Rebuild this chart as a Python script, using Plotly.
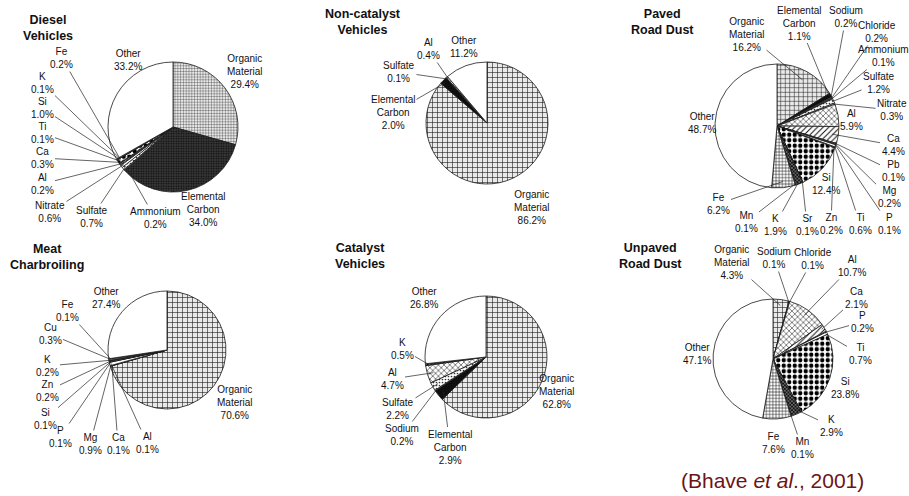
import math
import plotly.graph_objects as go

W, H = 909, 496

# ---------------- data (percent of PM2.5 mass) ----------------
diesel_labels = ["Organic Material", "Elemental Carbon", "Ammonium", "Sulfate", "Nitrate",
                 "Al", "Ca", "Ti", "Si", "K", "Fe", "Other"]
diesel_values = [29.4, 34.0, 0.2, 0.7, 0.6, 0.2, 0.3, 0.1, 1.0, 0.1, 0.2, 33.2]

noncat_labels = ["Organic Material", "Elemental Carbon", "Sulfate", "Al", "Other"]
noncat_values = [86.2, 2.0, 0.1, 0.4, 11.2]

paved_labels = ["Organic Material", "Elemental Carbon", "Sodium", "Chloride", "Ammonium",
                "Sulfate", "Nitrate", "Al", "Ca", "Pb", "Mg", "P", "Ti", "Zn", "Si",
                "Sr", "K", "Mn", "Fe", "Other"]
paved_values = [16.2, 1.1, 0.2, 0.2, 0.1, 1.2, 0.3, 5.9, 4.4, 0.1, 0.2, 0.1, 0.6, 0.2,
                12.4, 0.1, 1.9, 0.1, 6.2, 48.7]

meat_labels = ["Organic Material", "Al", "Ca", "Mg", "P", "Si", "Zn", "K", "Cu", "Fe", "Other"]
meat_values = [70.6, 0.1, 0.1, 0.9, 0.1, 0.1, 0.2, 0.2, 0.3, 0.1, 27.4]

cat_labels = ["Organic Material", "Elemental Carbon", "Sodium", "Sulfate", "Al", "K", "Other"]
cat_values = [62.8, 2.9, 0.2, 2.2, 4.7, 0.5, 26.8]

unpaved_labels = ["Organic Material", "Sodium", "Chloride", "Al", "Ca", "P", "Ti", "Si",
                  "K", "Mn", "Fe", "Other"]
unpaved_values = [4.3, 0.1, 0.1, 10.7, 2.1, 0.2, 0.7, 23.8, 2.9, 0.1, 7.6, 47.1]

source_titles = ["Diesel<br>Vehicles", "Non-catalyst<br>Vehicles", "Paved<br>Road Dust",
                 "Meat<br>Charbroiling", "Catalyst<br>Vehicles", "Unpaved<br>Road Dust"]
citation = "(Bhave <i>et al</i>., 2001)"

# ---------------- layout of each panel (pixels) ----------------
# center, radius, title position, and per-slice label: (x, y, leader?, leader depth)
panels = [
    dict(center=(173, 127), r=65, title=(48, 28), grid=2.8, ec="#3a3a3a",
         labels={"Organic Material": (245, 71, False, 0), "Elemental Carbon": (203, 210, False, 0),
                 "Ammonium": (155, 218, True, .95), "Sulfate": (92, 217, True, .95),
                 "Nitrate": (50, 212, True, .95), "Al": (42, 184, True, .95),
                 "Ca": (42, 158, True, .95), "Ti": (42, 133, True, .95),
                 "Si": (42, 108, True, .95), "K": (42, 83, True, .95),
                 "Fe": (62, 58, True, .95), "Other": (128, 60, False, 0)}),
    dict(center=(487, 123), r=61, title=(363, 22), grid=5, ec="#111111",
         labels={"Organic Material": (532, 207, False, 0), "Elemental Carbon": (393, 113, True, .95),
                 "Sulfate": (399, 72, True, .97), "Al": (428, 49, True, .97),
                 "Other": (464, 47, False, 0)}),
    dict(center=(777, 126), r=62, title=(662, 22), grid=4.5, ec="#111111",
         labels={"Organic Material": (747, 34, True, .85), "Elemental Carbon": (799, 23, True, .97),
                 "Sodium": (846, 17, True, .98), "Chloride": (877, 32, True, .98),
                 "Ammonium": (883, 56, True, .98), "Sulfate": (879, 83, True, .97),
                 "Nitrate": (892, 110, True, .98), "Al": (851, 120, False, 0),
                 "Ca": (893, 145, True, .9), "Pb": (893, 171, True, .98),
                 "Mg": (889, 197, True, .98), "P": (889, 224, True, .98),
                 "Ti": (860, 224, True, .98), "Zn": (831, 224, True, .98),
                 "Si": (826, 184, False, 0), "Sr": (807, 225, True, .98),
                 "K": (775, 225, True, .97), "Mn": (746, 222, True, .98),
                 "Fe": (718, 204, True, .9), "Other": (702, 123, False, 0)}),
    dict(center=(167, 350), r=59, title=(47, 257), grid=5, ec="#111111",
         labels={"Organic Material": (235, 402, False, 0), "Al": (147, 443, True, .97),
                 "Ca": (118, 444, True, .97), "Mg": (90, 444, True, .97),
                 "P": (60, 437, True, .97), "Si": (45, 419, True, .97),
                 "Zn": (47, 391, True, .97), "K": (47, 366, True, .97),
                 "Cu": (50, 334, True, .97), "Fe": (67, 311, True, .97),
                 "Other": (106, 298, False, 0)}),
    dict(center=(486, 357), r=61, title=(360, 256), grid=5, ec="#111111",
         labels={"Organic Material": (557, 391, False, 0), "Elemental Carbon": (450, 447, True, .9),
                 "Sodium": (402, 435, True, .97), "Sulfate": (398, 409, True, .9),
                 "Al": (392, 379, True, .9), "K": (402, 349, True, .95),
                 "Other": (424, 298, False, 0)}),
    dict(center=(773, 359), r=60, title=(650, 256), grid=5, ec="#111111",
         labels={"Organic Material": (732, 262, True, .9), "Sodium": (774, 258, True, .98),
                 "Chloride": (813, 259, True, .98), "Al": (852, 266, True, .9),
                 "Ca": (856, 298, True, .95), "P": (862, 322, True, .97),
                 "Ti": (860, 354, True, .97), "Si": (845, 388, False, 0),
                 "K": (831, 426, True, .9), "Mn": (802, 448, True, .98),
                 "Fe": (773, 443, False, 0), "Other": (697, 354, False, 0)}),
]

FONT = "Arial, 'Liberation Sans', Helvetica, sans-serif"


def slice_style(name, panel):
    """Fill colour and hatch pattern for one component."""
    if name == "Organic Material":
        return "#ffffff", "+", "#1a1a1a", "#e9e9e9", panel["grid"], 0.22
    if name == "Elemental Carbon":
        return panel["ec"], ".", "#0a0a0a", panel["ec"], 2.5, 0.4
    if name == "Al":
        return "#ffffff", "x", "#111111", "#ffffff", 4, 0.25
    if name == "Ca":
        return "#ffffff", "/", "#111111", "#ffffff", 4, 0.25
    if name == "Si":
        return "#ffffff", ".", "#000000", "#ffffff", 5.5, 0.5
    if name == "Fe":
        return "#ffffff", "+", "#111111", "#ffffff", 3.2, 0.3
    if name == "K":
        return "#444444", "x", "#000000", "#666666", 2.5, 0.5
    if name == "Sulfate":
        return "#ffffff", ".", "#333333", "#ffffff", 3, 0.25
    return "#ffffff", "", "#000000", "#ffffff", 4, 0.3


series = [(diesel_labels, diesel_values), (noncat_labels, noncat_values),
          (paved_labels, paved_values), (meat_labels, meat_values),
          (cat_labels, cat_values), (unpaved_labels, unpaved_values)]

fig = go.Figure()
annotations = []

for (labels, values), panel, title in zip(series, panels, source_titles):
    cx, cy = panel["center"]
    r = panel["r"]
    styles = [slice_style(n, panel) for n in labels]
    fig.add_trace(go.Pie(
        labels=labels, values=values, sort=False, direction="clockwise", rotation=0,
        textinfo="none", hoverinfo="label+percent", showlegend=False,
        domain=dict(x=[(cx - r) / W, (cx + r) / W], y=[1 - (cy + r) / H, 1 - (cy - r) / H]),
        marker=dict(
            colors=[s[0] for s in styles],
            line=dict(color="#1a1a1a", width=0.8),
            pattern=dict(shape=[s[1] for s in styles], fgcolor=[s[2] for s in styles],
                         bgcolor=[s[3] for s in styles], size=[s[4] for s in styles],
                         solidity=[s[5] for s in styles], fillmode="replace"),
        ),
    ))

    tx, ty = panel["title"]
    annotations.append(dict(x=tx / W, y=1 - ty / H, xref="paper", yref="paper",
                            text="<b>" + title.replace("<br>", "</b><br><b>") + "</b>",
                            showarrow=False, font=dict(family=FONT, size=12.5, color="#111"),
                            xanchor="center", yanchor="middle"))

    total = sum(values)
    cum = 0.0
    for name, v in zip(labels, values):
        theta = 2 * math.pi * (cum + v / 2) / total
        cum += v
        lx, ly, leader, depth = panel["labels"][name]
        text = name.replace(" ", "<br>") + "<br>" + f"{v:.1f}%"
        common = dict(xref="paper", yref="paper", text=text,
                      font=dict(family=FONT, size=10, color="#111"))
        if leader:
            px = cx + depth * r * math.sin(theta)
            py = cy - depth * r * math.cos(theta)
            annotations.append(dict(x=px / W, y=1 - py / H, ax=lx - px, ay=ly - py,
                                    axref="pixel", ayref="pixel", showarrow=True,
                                    arrowhead=0, arrowwidth=0.7, arrowcolor="#222",
                                    standoff=0, **common))
        else:
            annotations.append(dict(x=lx / W, y=1 - ly / H, showarrow=False,
                                    xanchor="center", yanchor="middle", **common))

annotations.append(dict(x=772 / W, y=1 - 480 / H, xref="paper", yref="paper", text=citation,
                        showarrow=False, xanchor="center", yanchor="middle",
                        font=dict(family=FONT, size=21, color="#6b1515")))

fig.update_layout(width=W, height=H, margin=dict(l=0, r=0, t=0, b=0),
                  paper_bgcolor="white", plot_bgcolor="white",
                  annotations=annotations)

fig.write_html("out.html")
